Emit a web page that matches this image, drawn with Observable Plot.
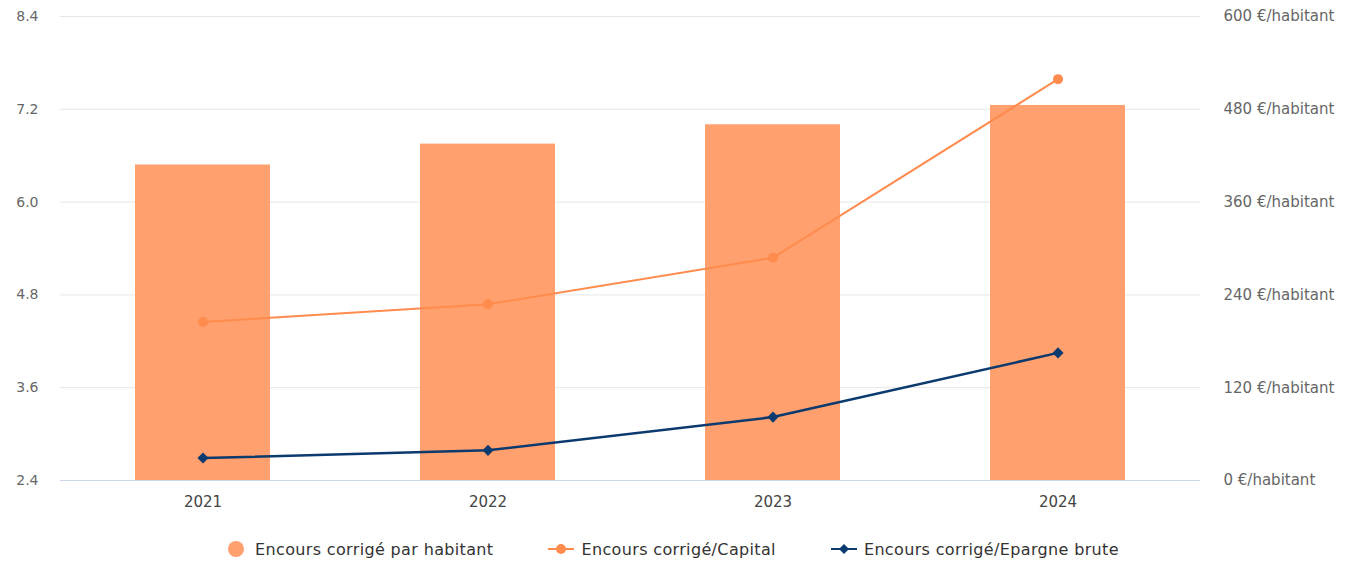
<!DOCTYPE html>
<html>
<head>
<meta charset="utf-8">
<script src="https://cdn.jsdelivr.net/npm/d3@7"></script>
<script src="https://cdn.jsdelivr.net/npm/@observablehq/plot@0.6"></script>
<style>
  html, body { margin: 0; padding: 0; background: #fff; }
  #chart svg { display: block; }
  .legend {
    display: flex; justify-content: center; align-items: center;
    height: 42px; margin-top: 8px; gap: 55px;
    font-family: "DejaVu Sans", sans-serif;
    font-size: 16px; letter-spacing: 0.35px; color: #333;
  }
  .legend .item { display: flex; align-items: center; gap: 7px; }
  .legend .item.bar { gap: 11px; }
  .legend svg { display: block; }
</style>
</head>
<body>
<div id="chart"></div>
<div class="legend" id="legend"></div>
<script>
// Years on the x axis
const years = ["2021", "2022", "2023", "2024"];
// Encours corrigé par habitant (€/habitant, right axis)
const encoursParHabitant = [408, 435, 460, 485];
// Encours corrigé / Capital (left axis)
const encoursCapital = [4.45, 4.68, 5.28, 7.59];
// Encours corrigé / Epargne brute (left axis)
const encoursEpargne = [2.69, 2.79, 3.22, 4.05];
// Tick values of the left axis
const leftTicks = [2.4, 3.6, 4.8, 6.0, 7.2, 8.4];
// Tick values of the right axis (€/habitant)
const rightTicks = [0, 120, 240, 360, 480, 600];

const barColor = "#FFA06E";
const capColor = "#FF8B4D";
const epaColor = "#0B3A6E";

// The right axis (0–600 €) is aligned onto the left axis (2.4–8.4)
const base = leftTicks[0];
const euroPerUnit = (rightTicks[rightTicks.length - 1] - rightTicks[0]) /
                    (leftTicks[leftTicks.length - 1] - leftTicks[0]);
const toLeft = v => base + v / euroPerUnit;

const rows = years.map((year, i) => ({
  year,
  parHab: encoursParHabitant[i],
  capital: encoursCapital[i],
  epargne: encoursEpargne[i]
}));

const font = "DejaVu Sans, sans-serif";

const chart = Plot.plot({
  width: 1347,
  height: 520,
  marginTop: 16,
  marginBottom: 40,
  marginLeft: 60,
  marginRight: 147,
  style: { fontFamily: font, fontSize: "14px", background: "#fff" },
  x: { domain: years, paddingInner: 0.526, paddingOuter: 0.263, label: null },
  y: { domain: [leftTicks[0], leftTicks[leftTicks.length - 1]], label: null },
  marks: [
    Plot.gridY(leftTicks.slice(1), { stroke: "#e6e6e6", strokeOpacity: 1 }),
    Plot.barY(rows, { x: "year", y1: base, y2: d => toLeft(d.parHab), fill: barColor }),
    Plot.ruleY([base], { stroke: "#ccd6eb", strokeWidth: 1 }),
    Plot.line(rows, { x: "year", y: "capital", stroke: capColor, strokeWidth: 2 }),
    Plot.dot(rows, { x: "year", y: "capital", fill: capColor, r: 5, symbol: "circle" }),
    Plot.line(rows, { x: "year", y: "epargne", stroke: epaColor, strokeWidth: 2.5 }),
    Plot.dot(rows, { x: "year", y: "epargne", fill: epaColor, r: 5, symbol: "diamond2" }),
    Plot.axisY(leftTicks, {
      anchor: "left", tickSize: 0, tickPadding: 22,
      tickFormat: d => d.toFixed(1), fill: "#666", fontSize: 14
    }),
    Plot.axisY(rightTicks.map(toLeft), {
      anchor: "right", tickSize: 0, tickPadding: 23,
      tickFormat: (d, i) => `${rightTicks[i]} €/habitant`, fill: "#666", fontSize: 15,
      ariaLabel: "right axis labels"
    }),
    Plot.axisX(years, { tickSize: 0, tickPadding: 16, fill: "#444", fontSize: 15 })
  ]
});
// Slightly looser spacing for the €/habitant labels
d3.select(chart).selectAll('g[aria-label="right axis labels"]').attr("letter-spacing", "1px");
document.getElementById("chart").appendChild(chart);

// Legend
const legendItems = [
  { label: "Encours corrigé par habitant", kind: "bar", color: barColor },
  { label: "Encours corrigé/Capital", kind: "circle", color: capColor },
  { label: "Encours corrigé/Epargne brute", kind: "diamond", color: epaColor }
];
const legend = d3.select("#legend");
for (const it of legendItems) {
  const item = legend.append("div").attr("class", "item " + it.kind);
  if (it.kind === "bar") {
    const s = item.append("svg").attr("width", 16).attr("height", 16);
    s.append("circle").attr("cx", 8).attr("cy", 8).attr("r", 8).attr("fill", it.color);
  } else {
    const s = item.append("svg").attr("width", 26).attr("height", 14);
    s.append("line").attr("x1", 0).attr("x2", 26).attr("y1", 7).attr("y2", 7)
      .attr("stroke", it.color).attr("stroke-width", 2);
    if (it.kind === "circle") {
      s.append("circle").attr("cx", 13).attr("cy", 7).attr("r", 5).attr("fill", it.color);
    } else {
      s.append("path").attr("d", "M13,2L18,7L13,12L8,7Z").attr("fill", it.color);
    }
  }
  item.append("span").text(it.label);
}
</script>
</body>
</html>
